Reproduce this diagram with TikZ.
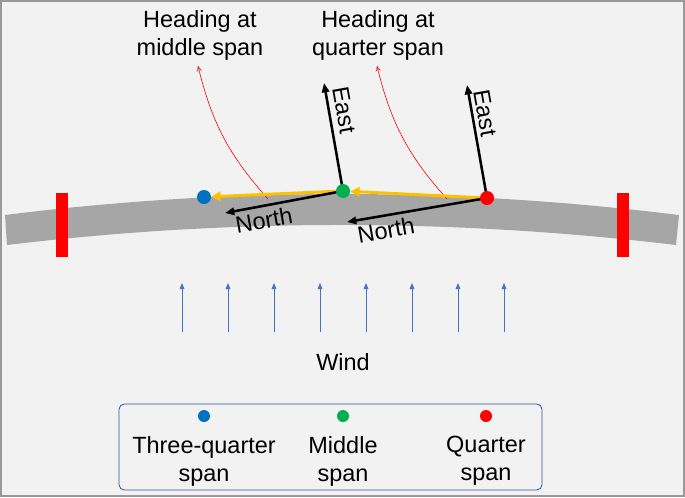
\documentclass[tikz,border=0pt]{standalone}
\usepackage{fontspec}
\setmainfont{Liberation Sans}
\usetikzlibrary{arrows.meta}
\pgfdeclarelayer{under}
\pgfsetlayers{under,main}
\definecolor{bg}{HTML}{F2F2F2}
\definecolor{beam}{HTML}{A6A6A6}
\definecolor{pblue}{HTML}{0070C0}
\definecolor{pgreen}{HTML}{00B050}
\definecolor{pred}{HTML}{FF0000}
\definecolor{porange}{HTML}{FFC000}
\definecolor{wblue}{HTML}{4472C4}
\definecolor{lbox}{HTML}{2F5597}
\tikzset{
  txt/.style={font=\fontsize{17.6}{21}\selectfont, inner sep=0pt, align=center},
  dot/.style={circle, fill=#1, minimum size=10.5pt, inner sep=0pt},
  ldot/.style={circle, fill=#1, minimum size=9pt, inner sep=0pt},
  orarrow/.style={porange, line width=2.2pt, -{Triangle[length=7pt,width=7pt]}},
  axarrow/.style={black, line width=1.9pt, -{Triangle[length=7pt,width=5.5pt]}},
  headarrow/.style={pred, line width=0.45pt, -{To[length=4pt,width=4pt]}},
  windarrow/.style={wblue, line width=0.7pt, -{Triangle[length=4.5pt,width=3.5pt]}},
  redbar/.style={fill=pred, draw=none},
}
\begin{document}
\begin{tikzpicture}[x=0.75pt, y=-0.75pt]
\useasboundingbox (0,0) rectangle (685,497);
\begin{pgfonlayer}{under}
\fill[bg] (0,0) rectangle (685,497);
\draw[gray!80, line width=1.5pt] (1,1) rectangle (684,496);
% beam
\fill[beam] (5,215) .. controls (229,187) and (452,187) .. (679,215)
  -- (676,245) .. controls (452,218.3) and (229,218.3) .. (7,245) -- cycle;
% red bars
\fill[redbar] (56,193) rectangle (68,257);
\fill[redbar] (617,193) rectangle (629,257);
\end{pgfonlayer}
% dots
\node[dot=pblue] (blue) at (204,197) {};
\node[dot=pgreen] (green) at (343,191) {};
\node[dot=pred] (red) at (487,198) {};
\begin{pgfonlayer}{under}
% heading curves
\coordinate (hm0) at (268,199);
\coordinate (hm1) at (198,66);
\coordinate (hq0) at (447,199);
\coordinate (hq1) at (377,66);
\draw[headarrow] (hm0) to[bend left=14] (hm1);
\draw[headarrow] (hq0) to[bend left=14] (hq1);
% orange arrows
\draw[orarrow] (red) -- (green);
\draw[orarrow] (green) -- (blue);
% axes
\coordinate (gN) at (225,213);
\coordinate (rN) at (347,222);
\coordinate (gE) at (324,83);
\coordinate (rE) at (467,85);
\draw[axarrow] (green.center) -- (gN);
\draw[axarrow] (red.center) -- (rN);
\draw[axarrow] (green.center) -- (gE);
\draw[axarrow] (red.center) -- (rE);
\end{pgfonlayer}
\node[txt, rotate=-80] (eastg) at (344,110) {East};
\node[txt, rotate=-80] (eastr) at (485,113) {East};
\node[txt, rotate=10] (northg) at (264,220) {North};
\node[txt, rotate=10] (northr) at (386,230) {North};
% headings
\node[txt] (hmid) at (200,35) {Heading at\\middle span};
\node[txt] (hqua) at (378,35) {Heading at\\quarter span};
% wind
\foreach \i in {0,...,7} {
  \coordinate (w0\i) at ({182+46*\i},332);
  \coordinate (w1\i) at ({182+46*\i},283);
  \draw[windarrow] (w0\i) -- (w1\i);
}
\node[txt] (wind) at (343,362) {Wind};
% legend
\draw[lbox, line width=0.6pt, rounded corners=4pt] (119,404) rectangle (542,490);
\node[ldot=pblue] (lb) at (204,416) {};
\node[ldot=pgreen] (lg) at (343,416) {};
\node[ldot=pred] (lr) at (486,416) {};
\node[txt] (tb) at (204,461) {Three-quarter\\span};
\node[txt] (tg) at (343,461) {Middle\\span};
\node[txt] (tr) at (486,461) {Quarter\\span};
\end{tikzpicture}
\end{document}
